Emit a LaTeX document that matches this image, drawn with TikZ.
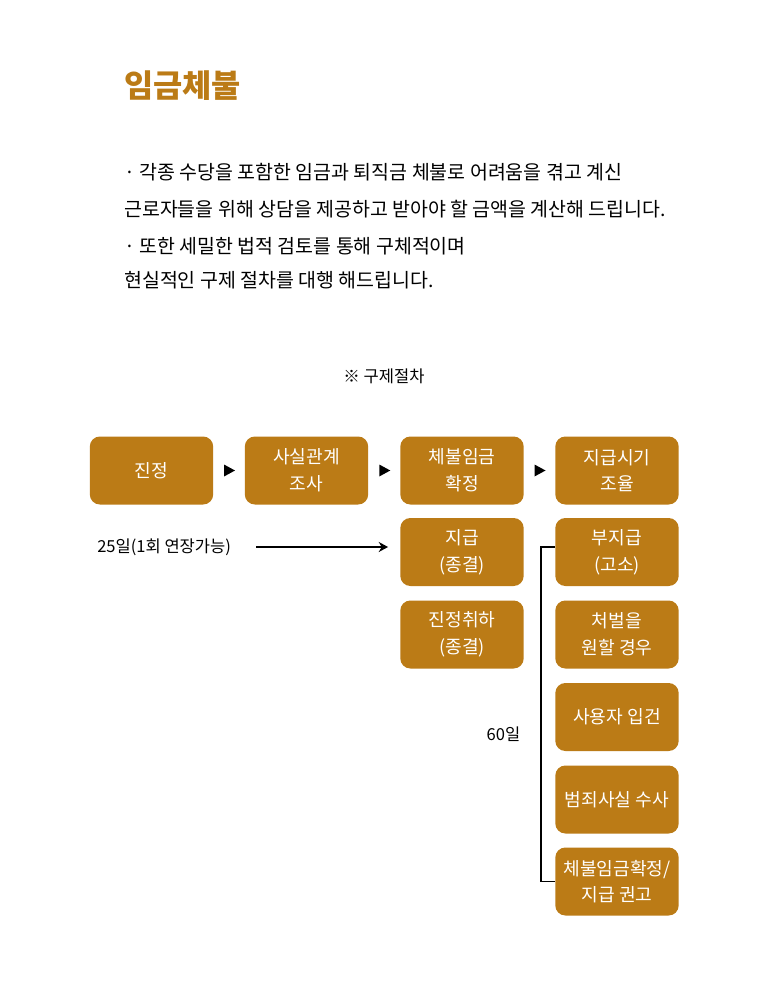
\documentclass[tikz,border=0pt]{standalone}
\usepackage{fontspec}
\setmainfont{Noto Sans CJK KR}
\usetikzlibrary{arrows.meta, positioning, calc}
\definecolor{gold}{RGB}{187,123,22}

\begin{document}
\begin{tikzpicture}[
    x=0.75pt, y=-0.75pt,
    >={Stealth[length=7pt, width=7.5pt]},
    % Box and text styles
    stepbox/.style={rectangle, rounded corners=7.5pt, fill=gold, text=white, minimum width=92.5pt, minimum height=51pt, align=center, inner sep=0pt, font=\fontsize{13.6}{20}\selectfont},
    body/.style={anchor=west, inner sep=0pt, font=\fontsize{14.6}{17}\selectfont},
    lbl/.style={inner sep=0pt, font=\fontsize{12.4}{14}\selectfont}
]
    \useasboundingbox (0,0) rectangle (768,987);

    % --- Title and description ---
    \node[body, text=gold, font=\bfseries\fontsize{23.8}{28}\selectfont] (title) at (124,86) {임금체불};
    \node[body] (line1) at (124,172) {· 각종 수당을 포함한 임금과 퇴직금 체불로 어려움을 겪고 계신};
    \node[body] (line2) at (124,209) {근로자들을 위해 상담을 제공하고 받아야 할 금액을 계산해 드립니다.};
    \node[body] (line3) at (124,246) {· 또한 세밀한 법적 검토를 통해 구체적이며};
    \node[body] (line4) at (124,280) {현실적인 구제 절차를 대행 해드립니다.};

    \node[lbl] (head) at (384,376) {※ 구제절차};

    % --- Top row ---
    \node[stepbox] (jin) at (151.5,470.5) {진정};
    \node[stepbox] (sasil) at (306.5,470.5) {사실관계\\조사};
    \node[stepbox] (hwak) at (462,470.5) {체불임금\\확정};
    \node[stepbox] (jogi) at (617,470.5) {지급시기\\조율};

    % Triangles between the top boxes
    \foreach \a/\b in {jin/sasil, sasil/hwak, hwak/jogi} {
        \coordinate (m) at ($(\a.east)!0.5!(\b.west)$);
        \fill ($(m)+(-5,-6)$) -- ++(11,6) -- ++(-11,6) -- cycle;
    }

    % --- Middle column ---
    \node[stepbox] (jigeup) at (462,552) {지급\\(종결)};
    \node[stepbox] (chwiha) at (462,634.5) {진정취하\\(종결)};

    % --- Right column ---
    \node[stepbox] (bu) at (617,552) {부지급\\(고소)};
    \node[stepbox] (cheo) at (617,634.5) {처벌을\\원할 경우};
    \node[stepbox] (ipgeon) at (617,717) {사용자 입건};
    \node[stepbox] (susa) at (617,799.5) {범죄사실 수사};
    \node[stepbox] (gwon) at (617,881.5) {체불임금확정/\\지급 권고};

    % --- Periods ---
    \node[lbl, anchor=west] (d25) at (97,547) {25일(1회 연장가능)};
    \coordinate (s25) at (256,547);
    \draw[->, line width=1.1pt, shorten >=9pt] (s25) -- (jigeup.west |- s25);

    \draw[line width=1.2pt] (bu.west |- s25) -- ++(-14,0) |- (gwon.west);
    \node[lbl] (d60) at (503.5,734) {60일};

\end{tikzpicture}
\end{document}
